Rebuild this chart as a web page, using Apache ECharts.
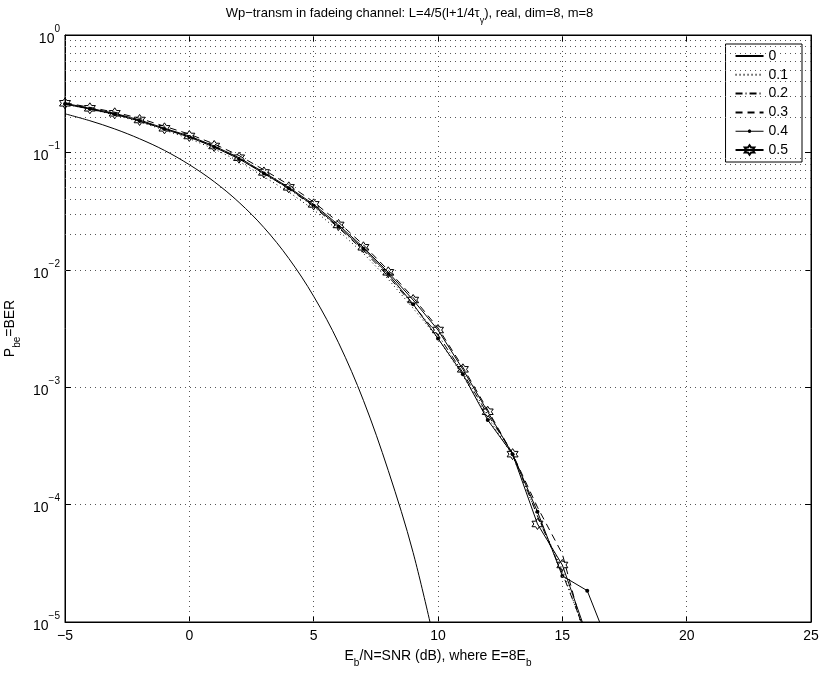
<!DOCTYPE html>
<html><head><meta charset="utf-8">
<script src="https://cdn.jsdelivr.net/npm/echarts@6/dist/echarts.min.js"></script>
<style>html,body{margin:0;padding:0;background:#fff}#c{width:819px;height:675px}</style>
</head><body><div id="c"></div>
<script>
// ---- data ----
const snrTheory = [-5,-4,-3,-2,-1,0,1,2,3,4,5,6,7,8,9,10];
const ber0   = [0.2132,0.1861,0.1584,0.1306,0.1040,0.0786,0.0563,0.0375,0.0229,0.0125,0.00595,0.00239,0.000773,0.000195,0.000039,0.0000050];
const snrSim = [-5,-4,-3,-2,-1,0,1,2,3,4,5,6,7,8,9,10,11,12,13,14,15,16,17];
const ber01 = [0.258,0.233,0.209,0.182,0.155,0.131,0.107,0.084,0.062,0.046,0.0325,0.0215,0.0138,0.0083,0.0047,0.0026,0.00125,0.00056,0.00026,0.00008,0.000028,0.000007];
const ber02 = [0.260,0.236,0.213,0.186,0.159,0.136,0.112,0.089,0.0665,0.049,0.0345,0.0228,0.0146,0.0088,0.0050,0.0028,0.00133,0.000585,0.000275,0.00008,0.000026,0.0000075];
const ber03 = [0.265,0.242,0.220,0.195,0.167,0.143,0.118,0.094,0.071,0.053,0.0378,0.0254,0.0163,0.0099,0.0058,0.0032,0.00148,0.00064,0.00027,0.000095,0.000038,0.0000062];
const ber04 = [0.258,0.234,0.211,0.185,0.158,0.135,0.111,0.088,0.066,0.0495,0.0352,0.0233,0.0151,0.0092,0.0051,0.0026,0.00129,0.000525,0.000269,0.000087,0.0000247,0.0000185,0.0000054];
const ber05 = [0.262,0.2375,0.2153,0.1888,0.1604,0.138,0.1134,0.0901,0.0675,0.0504,0.0361,0.0241,0.01555,0.00952,0.00553,0.00307,0.00142,0.000618,0.000269,0.0000684,0.0000306,0.0000076];
const seriesNames = ['0','0.1','0.2','0.3','0.4','0.5'];
const xGridVals = [0,5,10,15,20];
const yMinorVals = [];
for (let e = -5; e < 0; e++) for (let m = 2; m <= 9; m++) yMinorVals.push(m * Math.pow(10, e));

// ---- build ----
const pair = (xs, ys) => ys.map((v, i) => [xs[i], v]);
const FONT = 'Liberation Sans, Arial, sans-serif';
const hexagram = 'path://M10,0 L12.885,5 L18.66,5 L15.77,10 L18.66,15 L12.885,15 L10,20 L7.115,15 L1.34,15 L4.23,10 L1.34,5 L7.115,5 Z';
const dotLineIcon = 'path://M0,2.5h30v1h-30z M17,3 L16.4,4.4 L15,5 L13.6,4.4 L13,3 L13.6,1.6 L15,1 L16.4,1.6 Z';
const sup = {b:{fontSize:14,fontFamily:FONT,color:'#000',lineHeight:22,verticalAlign:'bottom'},
             s:{fontSize:10,fontFamily:FONT,color:'#000',lineHeight:22,verticalAlign:'top'}};
const subRich = (fs) => ({n:{fontSize:fs,fontFamily:FONT,fontWeight:'normal',color:'#000',lineHeight:fs+5,verticalAlign:'top'},
                          s:{fontSize:Math.round(fs*0.72),fontFamily:FONT,fontWeight:'normal',color:'#000',lineHeight:fs+5,verticalAlign:'bottom'}});
const gridStyle = {color:'#555',type:[1,4],width:1};
const base = {type:'line',clip:true,animation:false,lineStyle:{color:'#000',width:1},itemStyle:{color:'#000'}};
const axisCommon = () => ({axisLine:{show:true,onZero:false,lineStyle:{color:'#000'}},
                           axisTick:{inside:true,length:6,lineStyle:{color:'#000'}}});

const chart = echarts.init(document.getElementById('c'), null, {renderer:'canvas'});
chart.setOption({
  backgroundColor:'#fff',
  animation:false,
  title:{text:'{n|Wp−transm in fadeing channel: L=4/5(l+1/4τ}{s|γ}{n|), real, dim=8, m=8}',
         left:'center', top:2,
         textStyle:{fontWeight:'normal',fontSize:13,rich:subRich(13)}},
  grid:{left:65,right:8,top:35,bottom:53,show:true,borderColor:'#000',borderWidth:1,
        containLabel:false,outerBoundsMode:'none'},
  legend:{orient:'vertical',right:17,top:44,
          data:[{name:'0',itemStyle:{opacity:0}},{name:'0.1',itemStyle:{opacity:0}},
                {name:'0.2',itemStyle:{opacity:0}},{name:'0.3',itemStyle:{opacity:0}},
                {name:'0.4',icon:dotLineIcon},{name:'0.5'}],
          backgroundColor:'#fff',borderColor:'#000',borderWidth:1,
          padding:[5,14,5,9],itemWidth:28,itemHeight:12,itemGap:4.8,
          textStyle:{fontFamily:FONT,fontSize:14,color:'#000'}},
  xAxis:[Object.assign(axisCommon(),{type:'value',min:-5,max:25,interval:5,
          name:'{n|E}{s|b}{n|/N=SNR (dB), where E=8E}{s|b}',nameLocation:'middle',nameGap:27,
          nameTextStyle:{rich:subRich(14)},
          axisLabel:{fontFamily:FONT,fontSize:14,color:'#000',margin:7,formatter:v=>String(v).replace('-','−')},
          splitLine:{show:false}}),
         Object.assign(axisCommon(),{type:'value',min:-5,max:25,interval:5,position:'top',
          axisLabel:{show:false},splitLine:{show:false}})],
  yAxis:[Object.assign(axisCommon(),{type:'log',logBase:10,min:1e-5,max:1,
          name:'{n|P}{s|be}{n|=BER}',nameLocation:'middle',nameGap:38,nameRotate:90,
          nameTextStyle:{rich:subRich(14)},
          axisLabel:{margin:5,formatter:v=>{const e=Math.round(Math.log10(v));return '{b|10}{s|'+String(e).replace('-','−')+'}';},rich:sup},
          splitLine:{show:true,lineStyle:gridStyle}}),
         Object.assign(axisCommon(),{type:'log',logBase:10,min:1e-5,max:1,position:'right',
          axisLabel:{show:false},splitLine:{show:false}})],
  series:[
    Object.assign({},base,{name:'0',data:pair(snrTheory,ber0),symbol:'none',smooth:0.35,
      markLine:{silent:true,symbol:'none',label:{show:false},animation:false,
        lineStyle:gridStyle,
        data:yMinorVals.map(v=>({yAxis:v})).concat(xGridVals.map(v=>[{coord:[v,1e-5]},{coord:[v,1]}]))}}),
    Object.assign({},base,{name:'0.1',data:pair(snrSim,ber01),symbol:'none',lineStyle:{color:'#000',width:1,type:[1,3]}}),
    Object.assign({},base,{name:'0.2',data:pair(snrSim,ber02),symbol:'none',lineStyle:{color:'#000',width:1,type:[7,3,1,3]}}),
    Object.assign({},base,{name:'0.3',data:pair(snrSim,ber03),symbol:'none',lineStyle:{color:'#000',width:1,type:[7,5]}}),
    Object.assign({},base,{name:'0.4',data:pair(snrSim,ber04),symbol:'circle',symbolSize:4,showSymbol:true}),
    Object.assign({},base,{name:'0.5',data:pair(snrSim,ber05),symbol:hexagram,symbolSize:11,showSymbol:true,
      itemStyle:{color:'rgba(0,0,0,0)',borderColor:'#000',borderWidth:1}})
  ]
});
</script></body></html>
